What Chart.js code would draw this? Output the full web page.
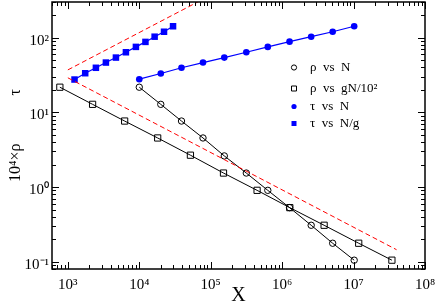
<!DOCTYPE html>
<html>
<head>
<meta charset="utf-8">
<script src="https://cdn.jsdelivr.net/npm/chart.js@4.4.1/dist/chart.umd.min.js"></script>
<style>
  html, body { margin: 0; padding: 0; background: #fff; }
  #grafico { display: block; }
</style>
</head>
<body>
<canvas id="grafico" width="436" height="306"></canvas>
<script>
// valores (escala log-log)
const valoresN = [10000, 20000, 39000, 78000, 155000, 315000, 630000, 1270000, 2550000, 5100000, 10200000];
const valoresNg = [1240, 1750, 2470, 3410, 4710, 6500, 8970, 12200, 16400, 22200, 29700];
const valoresGN = [773, 2220, 6240, 18100, 52000, 151000, 446000, 1280000, 3870000, 11800000, 34400000];

const rhoVsN = [21.7, 12.8, 7.65, 4.54, 2.61, 1.54, 0.904, 0.53, 0.308, 0.177, 0.105];
const rhoVsGN = [21.7, 12.8, 7.65, 4.54, 2.67, 1.54, 0.904, 0.53, 0.308, 0.177, 0.105];
const tauVsN = [27.8, 33.1, 39.5, 46.4, 54.1, 63.7, 75.2, 88.4, 103, 120, 142];
const tauVsNg = [27.5, 33.4, 39.5, 46.4, 54.1, 63.7, 75.2, 87.7, 103, 120, 142];

// retas de referência (tracejadas)
const retaX = [1000, 100000];
const retaSobe = [37, 370];
const retaDesceX = [1000, 40000000];
const retaDesce = [29, 0.145];

const legendas = ['ρ  vs  N', 'ρ  vs  gN/10²', 'τ  vs  N', 'τ  vs  N/g'];

const eixoX = { min: 600, max: 1e8 };
const eixoY = { min: 0.08, max: 300 };

const fonte = "'Liberation Serif', 'Times New Roman', Times, serif";

function pontos(xs, ys) {
    return xs.map((x, i) => ({ x: x, y: ys[i] }));
}

function ehDecada(v) {
    const l = Math.log10(v);
    return Math.abs(l - Math.round(l)) < 1e-9;
}

const sobrescritos = { '-': '⁻', '0': '⁰', '1': '¹', '2': '²', '3': '³', '4': '⁴', '5': '⁵', '6': '⁶', '7': '⁷', '8': '⁸', '9': '⁹' };

// só as décadas recebem rótulo
function rotuloPotencia(v) {
    if (!ehDecada(v)) return null;
    const e = String(Math.round(Math.log10(v)));
    return '10' + e.split('').map(c => sobrescritos[c]).join('');
}

// marcas menores/maiores de um eixo log
function marcasLog(escala) {
    const lista = [];
    const d0 = Math.floor(Math.log10(escala.min));
    const d1 = Math.ceil(Math.log10(escala.max));
    for (let d = d0; d <= d1; d++) {
        for (let m = 1; m <= 9; m++) {
            const v = m * Math.pow(10, d);
            if (v >= escala.min * 0.999 && v <= escala.max * 1.001) lista.push([v, m === 1]);
        }
    }
    return lista;
}

// moldura com marcas para dentro nos quatro lados
const molduraPlugin = {
    id: 'moldura',
    afterDatasetsDraw(chart) {
        const { ctx, chartArea: a, scales } = chart;
        ctx.save();
        ctx.strokeStyle = '#000';
        ctx.lineWidth = 1;
        ctx.beginPath();
        marcasLog(scales.x).forEach(([v, maior]) => {
            const px = Math.round(scales.x.getPixelForValue(v)) + 0.5;
            const t = maior ? 7 : 4;
            ctx.moveTo(px, a.bottom); ctx.lineTo(px, a.bottom - t);
            ctx.moveTo(px, a.top); ctx.lineTo(px, a.top + t);
        });
        marcasLog(scales.y).forEach(([v, maior]) => {
            const py = Math.round(scales.y.getPixelForValue(v)) + 0.5;
            const t = maior ? 7 : 4;
            ctx.moveTo(a.left, py); ctx.lineTo(a.left + t, py);
            ctx.moveTo(a.right, py); ctx.lineTo(a.right - t, py);
        });
        ctx.stroke();
        ctx.lineWidth = 1.5;
        ctx.strokeRect(a.left, a.top, a.right - a.left, a.bottom - a.top);

        // legenda dentro da área do gráfico
        const estilos = [
            { forma: 'circulo', cheio: false, cor: '#000' },
            { forma: 'quadrado', cheio: false, cor: '#000' },
            { forma: 'circulo', cheio: true, cor: '#0000ff' },
            { forma: 'quadrado', cheio: true, cor: '#0000ff' }
        ];
        const ys = [67.5, 88.5, 106.5, 123.5];
        ctx.font = '13px ' + fonte;
        ctx.textBaseline = 'middle';
        ctx.textAlign = 'left';
        legendas.forEach((txt, i) => {
            const e = estilos[i];
            const x = 294, y = ys[i];
            ctx.beginPath();
            if (e.forma === 'circulo') ctx.arc(x, y, 2.6, 0, Math.PI * 2);
            else ctx.rect(x - 2.5, y - 2.5, 5, 5);
            ctx.lineWidth = 1;
            if (e.cheio) { ctx.fillStyle = e.cor; ctx.fill(); }
            else { ctx.strokeStyle = e.cor; ctx.stroke(); }
            ctx.fillStyle = '#000';
            ctx.fillText(txt, 310, y);
        });
        ctx.restore();
    }
};

function inicializarGrafico() {
    const ctx = document.getElementById('grafico').getContext('2d');

    new Chart(ctx, {
        type: 'scatter',
        data: {
            datasets: [
                {
                    label: 'reta τ',
                    data: pontos(retaX, retaSobe),
                    showLine: true,
                    borderColor: '#ff0000',
                    borderWidth: 1,
                    borderDash: [5, 3],
                    pointRadius: 0
                },
                {
                    label: 'reta ρ',
                    data: pontos(retaDesceX, retaDesce),
                    showLine: true,
                    borderColor: '#ff0000',
                    borderWidth: 1,
                    borderDash: [5, 3],
                    pointRadius: 0
                },
                {
                    label: legendas[0],
                    data: pontos(valoresN, rhoVsN),
                    showLine: true,
                    borderColor: '#000',
                    borderWidth: 1,
                    pointStyle: 'circle',
                    pointRadius: 3.2,
                    pointBorderWidth: 1,
                    pointBorderColor: '#000',
                    pointBackgroundColor: 'rgba(0,0,0,0)'
                },
                {
                    label: legendas[1],
                    data: pontos(valoresGN, rhoVsGN),
                    showLine: true,
                    borderColor: '#000',
                    borderWidth: 1,
                    pointStyle: 'rect',
                    pointRadius: 4.4,
                    pointBorderWidth: 1,
                    pointBorderColor: '#000',
                    pointBackgroundColor: 'rgba(0,0,0,0)'
                },
                {
                    label: legendas[2],
                    data: pontos(valoresN, tauVsN),
                    showLine: true,
                    borderColor: '#0000ff',
                    borderWidth: 1.2,
                    pointStyle: 'circle',
                    pointRadius: 3.3,
                    pointBorderWidth: 0,
                    pointBackgroundColor: '#0000ff'
                },
                {
                    label: legendas[3],
                    data: pontos(valoresNg, tauVsNg),
                    showLine: true,
                    borderColor: '#0000ff',
                    borderWidth: 1.2,
                    pointStyle: 'rect',
                    pointRadius: 4.6,
                    pointBorderWidth: 0,
                    pointBackgroundColor: '#0000ff'
                }
            ]
        },
        options: {
            responsive: false,
            animation: false,
            devicePixelRatio: 1,
            layout: { autoPadding: false, padding: { top: 2, right: 11, left: 0, bottom: 0 } },
            plugins: {
                legend: { display: false },
                tooltip: { enabled: false }
            },
            scales: {
                x: {
                    type: 'logarithmic',
                    min: eixoX.min,
                    max: eixoX.max,
                    afterFit: (s) => { s.height = 37; s.paddingLeft = 0; s.paddingRight = 0; },
                    grid: { display: false, drawTicks: false },
                    border: { display: false },
                    ticks: {
                        autoSkip: false,
                        maxRotation: 0,
                        padding: 7,
                        color: '#000',
                        font: { family: fonte, size: 15 },
                        callback: (v) => rotuloPotencia(v)
                    },
                    title: {
                        display: true,
                        text: 'X',
                        color: '#000',
                        font: { family: fonte, size: 20, lineHeight: 1 },
                        padding: { top: 0, bottom: 0 }
                    }
                },
                y: {
                    type: 'logarithmic',
                    min: eixoY.min,
                    max: eixoY.max,
                    afterFit: (s) => { s.width = 52; s.paddingTop = 0; s.paddingBottom = 0; },
                    grid: { display: false, drawTicks: false },
                    border: { display: false },
                    ticks: {
                        autoSkip: false,
                        padding: 3,
                        labelOffset: 3,
                        color: '#000',
                        font: { family: fonte, size: 15 },
                        callback: (v) => rotuloPotencia(v)
                    },
                    title: {
                        display: true,
                        text: '10⁴×ρ' + ' '.repeat(12) + 'τ',
                        color: '#000',
                        font: { family: fonte, size: 16, lineHeight: 1.2 },
                        padding: { top: 6, bottom: 0 }
                    }
                }
            }
        },
        plugins: [molduraPlugin]
    });
}

document.addEventListener('DOMContentLoaded', inicializarGrafico);
</script>
</body>
</html>
